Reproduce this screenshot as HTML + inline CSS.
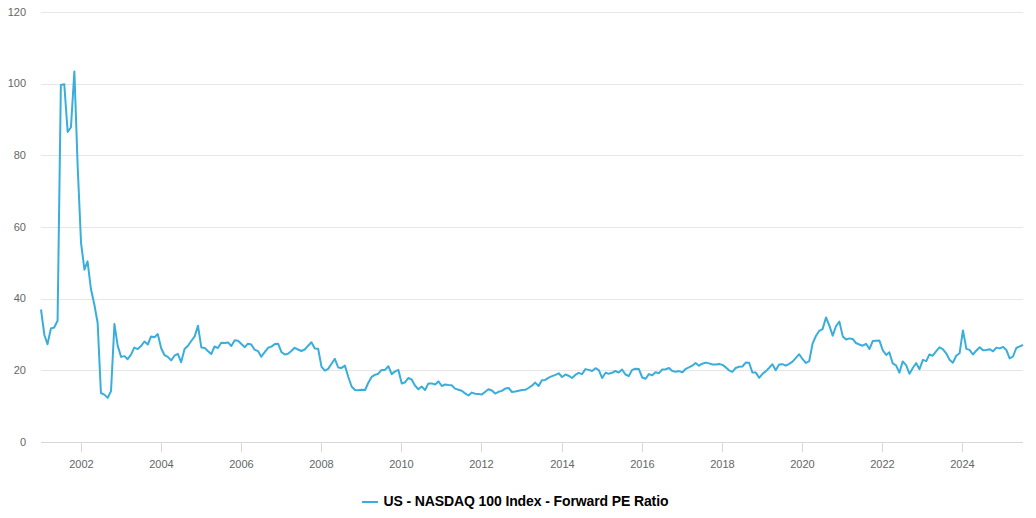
<!DOCTYPE html>
<html><head><meta charset="utf-8"><style>
html,body{margin:0;padding:0;background:#fff;width:1036px;height:518px;overflow:hidden}
svg{display:block;font-family:"Liberation Sans",sans-serif}
</style></head><body>
<svg width="1036" height="518" viewBox="0 0 1036 518">
<rect width="1036" height="518" fill="#fff"/>
<path d="M41 12.5 H1023" stroke="#e6e6e6" stroke-width="1"/>
<path d="M41 84.5 H1023" stroke="#e6e6e6" stroke-width="1"/>
<path d="M41 155.5 H1023" stroke="#e6e6e6" stroke-width="1"/>
<path d="M41 227.5 H1023" stroke="#e6e6e6" stroke-width="1"/>
<path d="M41 299.5 H1023" stroke="#e6e6e6" stroke-width="1"/>
<path d="M41 370.5 H1023" stroke="#e6e6e6" stroke-width="1"/>
<path d="M41 442.5 H1023" stroke="#d8d8d8" stroke-width="1"/>
<path d="M81.5 442 V452" stroke="#d8d8d8" stroke-width="1"/>
<path d="M161.5 442 V452" stroke="#d8d8d8" stroke-width="1"/>
<path d="M241.5 442 V452" stroke="#d8d8d8" stroke-width="1"/>
<path d="M321.5 442 V452" stroke="#d8d8d8" stroke-width="1"/>
<path d="M401.5 442 V452" stroke="#d8d8d8" stroke-width="1"/>
<path d="M481.5 442 V452" stroke="#d8d8d8" stroke-width="1"/>
<path d="M562.5 442 V452" stroke="#d8d8d8" stroke-width="1"/>
<path d="M642.5 442 V452" stroke="#d8d8d8" stroke-width="1"/>
<path d="M722.5 442 V452" stroke="#d8d8d8" stroke-width="1"/>
<path d="M802.5 442 V452" stroke="#d8d8d8" stroke-width="1"/>
<path d="M882.5 442 V452" stroke="#d8d8d8" stroke-width="1"/>
<path d="M962.5 442 V452" stroke="#d8d8d8" stroke-width="1"/>
<g font-size="11" fill="#666">
<text x="81.5" y="467.8" text-anchor="middle">2002</text>
<text x="161.5" y="467.8" text-anchor="middle">2004</text>
<text x="241.5" y="467.8" text-anchor="middle">2006</text>
<text x="321.5" y="467.8" text-anchor="middle">2008</text>
<text x="401.5" y="467.8" text-anchor="middle">2010</text>
<text x="481.5" y="467.8" text-anchor="middle">2012</text>
<text x="562.5" y="467.8" text-anchor="middle">2014</text>
<text x="642.5" y="467.8" text-anchor="middle">2016</text>
<text x="722.5" y="467.8" text-anchor="middle">2018</text>
<text x="802.5" y="467.8" text-anchor="middle">2020</text>
<text x="882.5" y="467.8" text-anchor="middle">2022</text>
<text x="962.5" y="467.8" text-anchor="middle">2024</text>
<text x="26" y="16" text-anchor="end">120</text>
<text x="26" y="87" text-anchor="end">100</text>
<text x="26" y="159" text-anchor="end">80</text>
<text x="26" y="231" text-anchor="end">60</text>
<text x="26" y="302" text-anchor="end">40</text>
<text x="26" y="374" text-anchor="end">20</text>
<text x="26" y="446" text-anchor="end">0</text>
</g>
<polyline points="41.00,309.5 44.40,335.0 47.48,344.2 50.88,328.5 54.17,327.5 57.57,320.8 60.87,84.9 64.27,84.2 67.67,131.9 70.96,127.2 74.37,71.4 77.66,166.0 81.06,243.2 84.46,269.7 87.54,261.4 90.94,289.0 94.23,304.0 97.63,322.7 100.93,393.0 104.33,394.6 107.73,397.9 111.03,391.0 114.43,324.1 117.72,345.9 121.12,356.9 124.53,356.1 127.60,359.2 131.00,354.6 134.29,347.6 137.70,349.1 140.99,346.1 144.39,341.5 147.79,344.5 151.09,336.4 154.49,337.2 157.78,334.1 161.18,348.2 164.59,355.2 167.77,356.9 171.17,360.4 174.47,355.7 177.87,353.8 181.16,362.3 184.56,348.9 187.97,345.7 191.26,341.0 194.66,336.4 197.95,325.7 201.36,347.6 204.76,348.0 207.83,350.9 211.23,354.1 214.53,346.5 217.93,348.0 221.22,342.8 224.62,343.0 228.03,342.4 231.32,346.0 234.72,340.2 238.01,340.7 241.42,343.9 244.82,347.2 247.89,343.7 251.30,344.5 254.59,349.7 257.99,351.1 261.28,356.7 264.69,352.2 268.09,347.8 271.38,346.6 274.78,344.1 278.08,343.7 281.48,352.2 284.88,354.5 287.95,353.8 291.36,351.0 294.65,347.8 298.05,349.5 301.34,351.0 304.75,349.5 308.15,345.7 311.44,342.2 314.84,348.4 318.14,348.7 321.54,366.9 324.94,370.7 328.13,368.9 331.53,363.8 334.82,358.8 338.22,367.5 341.52,367.9 344.92,365.6 348.32,377.0 351.61,386.5 355.02,390.0 358.31,390.3 361.71,389.7 365.11,390.0 368.19,383.0 371.59,376.9 374.88,374.9 378.28,373.7 381.58,369.9 384.98,369.9 388.38,366.2 391.68,374.1 395.08,371.4 398.37,369.9 401.77,383.6 405.18,382.2 408.25,378.0 411.65,379.5 414.94,385.5 418.35,389.2 421.64,386.5 425.04,390.0 428.44,383.4 431.74,383.4 435.14,384.5 438.43,381.4 441.83,386.0 445.24,384.5 448.31,385.1 451.71,385.3 455.01,388.6 458.41,389.7 461.70,390.7 465.10,393.4 468.51,395.5 471.80,392.6 475.20,393.8 478.49,394.0 481.90,394.4 485.30,391.8 488.48,389.3 491.88,390.5 495.18,393.6 498.58,391.8 501.87,390.9 505.27,388.6 508.68,388.0 511.97,392.0 515.37,391.5 518.66,390.7 522.07,390.1 525.47,389.7 528.54,388.0 531.95,385.7 535.24,382.6 538.64,386.0 541.93,380.2 545.34,379.9 548.74,377.6 552.03,376.1 555.43,374.9 558.73,373.3 562.13,377.0 565.53,374.5 568.60,375.7 572.01,378.0 575.30,374.9 578.70,372.8 581.99,374.2 585.40,369.1 588.80,369.9 592.09,371.0 595.49,368.2 598.79,370.2 602.19,378.0 605.59,372.8 608.67,373.7 612.07,372.8 615.36,371.0 618.76,372.6 622.06,369.5 625.46,374.5 628.86,376.0 632.15,369.9 635.56,368.7 638.85,369.1 642.25,377.5 645.65,378.8 648.84,374.1 652.24,375.3 655.53,372.3 658.93,373.2 662.23,369.5 665.63,369.2 669.03,368.0 672.32,371.1 675.73,371.8 679.02,371.1 682.42,372.3 685.83,368.8 688.90,367.4 692.30,365.7 695.59,363.0 699.00,365.7 702.29,363.7 705.69,362.6 709.09,363.4 712.39,364.5 715.79,364.5 719.08,364.0 722.48,364.9 725.89,367.4 728.96,370.3 732.36,371.8 735.65,368.0 739.06,366.8 742.35,366.5 745.75,362.6 749.16,362.8 752.45,372.6 755.85,372.6 759.14,377.8 762.55,373.8 765.95,371.1 769.02,368.0 772.42,364.2 775.72,370.3 779.12,364.5 782.41,364.2 785.81,365.7 789.22,363.9 792.51,361.7 795.91,357.8 799.20,354.2 802.61,359.2 806.01,363.0 809.19,361.2 812.59,343.6 815.89,336.0 819.29,330.8 822.58,329.1 825.99,317.5 829.39,325.6 832.68,335.7 836.08,326.0 839.38,321.6 842.78,336.4 846.18,339.5 849.25,338.4 852.66,338.9 855.95,343.0 859.35,344.5 862.64,345.7 866.05,343.8 869.45,349.0 872.74,341.1 876.14,340.8 879.44,340.6 882.84,350.3 886.24,355.0 889.32,352.2 892.72,363.4 896.01,365.4 899.41,372.7 902.71,361.4 906.11,365.2 909.51,373.8 912.80,368.0 916.21,363.1 919.50,369.2 922.90,359.9 926.30,361.1 929.38,354.5 932.78,355.7 936.07,351.3 939.47,347.3 942.77,349.1 946.17,353.3 949.57,359.8 952.86,362.7 956.27,355.8 959.56,353.3 962.96,330.4 966.37,348.9 969.55,349.9 972.95,354.5 976.24,350.7 979.65,347.2 982.94,350.3 986.34,349.9 989.74,349.2 993.04,351.3 996.44,347.6 999.73,348.4 1003.13,346.9 1006.54,350.3 1009.61,358.4 1013.01,356.5 1016.30,348.0 1019.71,346.4 1023.00,345.0" fill="none" stroke="#3aaedb" stroke-width="2" stroke-linejoin="round" stroke-linecap="butt"/>
<path d="M362 502 H378" stroke="#3aaedb" stroke-width="2"/>
<text x="383.5" y="505.8" font-size="14" font-weight="bold" fill="#000" textLength="285" lengthAdjust="spacing">US - NASDAQ 100 Index - Forward PE Ratio</text>
</svg>
</body></html>
